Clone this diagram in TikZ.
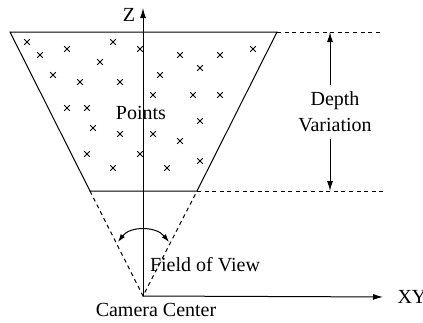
\documentclass[tikz,border=0pt]{standalone}
\usepackage{fontspec}
\setmainfont{Liberation Serif}
\usetikzlibrary{arrows.meta,calc}

\begin{document}
\begin{tikzpicture}[x=.5pt,y=-.5pt,line width=.5pt,>={Latex[length=5pt,width=3pt]},
  gapline/.style={dash pattern=on 2pt off 1.8pt},
  lbl/.style={inner sep=1pt,font=\fontsize{10}{13}\selectfont}]
\useasboundingbox (0,0) rectangle (423,322);
\coordinate (cam) at (143,296);\coordinate (ztop) at (143,8);
\coordinate (tl) at (10,32);\coordinate (tr) at (277,32);\coordinate (bl) at (90,191);\coordinate (br) at (197,191);
\coordinate (te) at (383,32);\coordinate (be) at (385,191);
\coordinate (dt) at (330,32);\coordinate (db) at (330,191);
\coordinate (fl) at (118,242);\coordinate (fr) at (169,242);
% frustum
\draw (tl)--(tr)--(br)--(bl)--cycle;
\draw[gapline] (bl)--(cam)--(br);\draw[gapline] (tr)--(te);\draw[gapline] (br)--(be);
\foreach \x/\y in {27/42,40/55,67/49,113/42,140/49,100/62,180/55,220/55,253/49,53/75,80/82,120/82,160/75,200/68,
  153/95,193/95,220/95,67/108,87/108,93/128,120/134,153/134,180/141,200/121,87/154,140/154,200/161,113/168,167/168}
  \draw[line width=.4pt,shift={(\x,\y)}] (-2.8,-2.8)--(2.8,2.8) (-2.8,2.8)--(2.8,-2.8);
% axes and labels
\node[lbl] (z) at (129,15) {Z};\node[lbl,anchor=west] (xy) at (395,297) {XY};
\draw[->] (cam)--(ztop);\draw[->,shorten >=6pt] (cam)--(xy.west);
\node[lbl] (pts) at (141,113) {Points};
\node[lbl] (cc) at (156,310) {Camera Center};
\node[lbl] (fov) at (205,265) {Field of View};
\node[lbl,inner sep=3pt,align=center] (dv) at (335,112) {Depth\\Variation};
\draw[->] (dv.north -| dt)--(dt);\draw[->] (dv.south -| db)--(db);
\draw[<->,>={Latex[length=4pt,width=2.6pt]}] (fl) .. controls (130,226) and (156,226) .. (fr);
\end{tikzpicture}
\end{document}
